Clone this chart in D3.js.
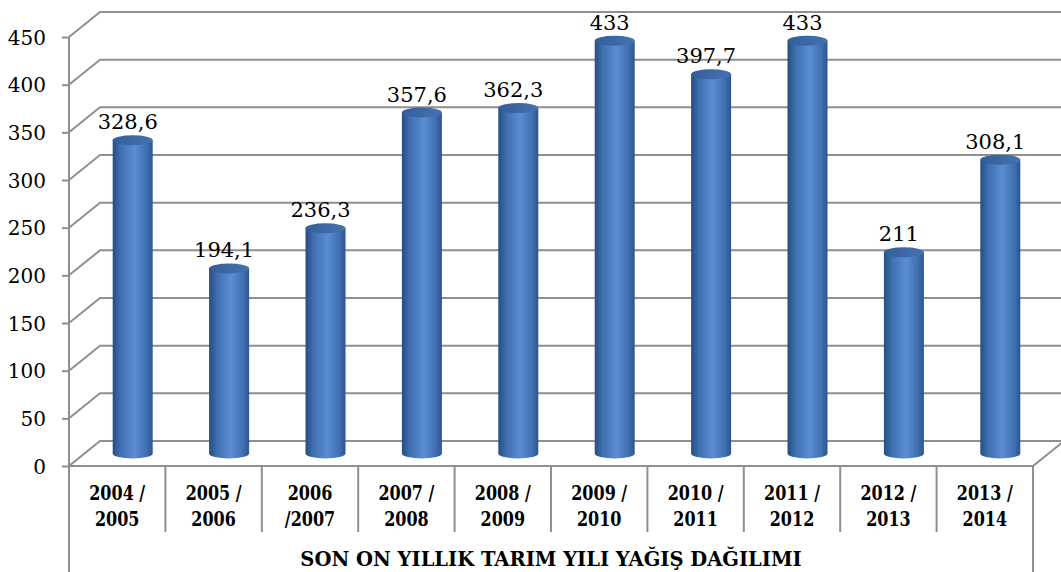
<!DOCTYPE html>
<html>
<head>
<meta charset="utf-8">
<script src="https://cdn.jsdelivr.net/npm/d3@7"></script>
<style>
  body { margin: 0; background: #fff; }
  svg { display: block; }
  svg text { font-family: "DejaVu Serif", "Liberation Serif", "Times New Roman", serif; fill: #000; }
</style>
</head>
<body>
<svg id="canvas"></svg>
<script>
let categories = ["2004 /|2005", "2005 /|2006", "2006|/2007", "2007 /|2008", "2008 /|2009",
                  "2009 /|2010", "2010 /|2011", "2011 /|2012", "2012 /|2013", "2013 /|2014"];
let values = [328.6, 194.1, 236.3, 357.6, 362.3, 433, 397.7, 433, 211, 308.1];
let yTicks = [0, 50, 100, 150, 200, 250, 300, 350, 400, 450];
let title = "SON ON YILLIK TARIM YILI YAĞIŞ DAĞILIMI";

let width = 1061;
let height = 572;

// front plane + depth offset of the 3D box
let plotLeft = 69, plotRight = 1033, plotTop = 37, plotBottom = 466;
let dx = 31, dy = -25;

let canvas = d3.select("#canvas").attr("width", width).attr("height", height);

let xScale = d3.scaleBand().domain(categories).range([plotLeft, plotRight]).padding(0);
let yScale = d3.scaleLinear().domain([0, 450]).range([plotBottom, plotTop]);

let gridColor = "#8f8f8f";

let defs = canvas.append("defs");
let grad = defs.append("linearGradient").attr("id", "cyl").attr("x1", 0).attr("x2", 1).attr("y1", 0).attr("y2", 0);
grad.append("stop").attr("offset", "0%").attr("stop-color", "#274d82");
grad.append("stop").attr("offset", "20%").attr("stop-color", "#3f6fb0");
grad.append("stop").attr("offset", "55%").attr("stop-color", "#5a8dd4");
grad.append("stop").attr("offset", "85%").attr("stop-color", "#3f6fb0");
grad.append("stop").attr("offset", "100%").attr("stop-color", "#2b558e");

let topGrad = defs.append("linearGradient").attr("id", "cyltop").attr("x1", 0).attr("x2", 1).attr("y1", 0).attr("y2", 0);
topGrad.append("stop").attr("offset", "0%").attr("stop-color", "#345e99");
topGrad.append("stop").attr("offset", "100%").attr("stop-color", "#4572b0");

// gridlines: diagonal on the side, horizontal on the back wall
let drawGrid = () => {
    canvas.append("g").selectAll("path")
        .data(yTicks)
        .enter()
        .append("path")
        .attr("d", d => {
            let y = yScale(d);
            return "M" + plotLeft + "," + y + "L" + (plotLeft + dx) + "," + (y + dy) + "L" + (width + 5) + "," + (y + dy);
        })
        .attr("fill", "none")
        .attr("stroke", gridColor)
        .attr("stroke-width", 2);

    // floor front edge and right diagonal
    canvas.append("path")
        .attr("d", "M" + plotLeft + "," + plotBottom + "L" + plotRight + "," + plotBottom + "L" + (plotRight + dx) + "," + (plotBottom + dy))
        .attr("fill", "none")
        .attr("stroke", gridColor)
        .attr("stroke-width", 2);
}

let drawAxes = () => {
    let yAxis = d3.axisLeft(yScale).tickValues(yTicks).tickSize(7).tickPadding(16);
    let g = canvas.append("g")
        .attr("transform", "translate(" + plotLeft + ",0)")
        .call(yAxis);
    g.select(".domain").remove();
    g.selectAll(".tick line").attr("stroke", gridColor).attr("stroke-width", 2);
    g.selectAll(".tick text")
        .attr("font-size", 20)
        .attr("dy", "0.36em");

    canvas.append("line")
        .attr("x1", plotLeft).attr("x2", plotLeft)
        .attr("y1", plotTop).attr("y2", height)
        .attr("stroke", gridColor).attr("stroke-width", 2);
    canvas.append("line")
        .attr("x1", plotRight).attr("x2", plotRight)
        .attr("y1", plotBottom).attr("y2", height)
        .attr("stroke", gridColor).attr("stroke-width", 2);

    // category table dividers
    canvas.append("g").selectAll("line")
        .data(categories.slice(1))
        .enter()
        .append("line")
        .attr("x1", d => xScale(d)).attr("x2", d => xScale(d))
        .attr("y1", plotBottom).attr("y2", 532)
        .attr("stroke", gridColor).attr("stroke-width", 2);

    // category names, squeezed a little to mimic a Times-like width
    let labels = canvas.append("g").selectAll("text")
        .data(categories)
        .enter()
        .append("text")
        .attr("transform", d => "translate(" + (xScale(d) + xScale.bandwidth() / 2) + ",500) scale(0.8,1)")
        .attr("text-anchor", "middle")
        .attr("font-weight", "bold")
        .attr("font-size", 20);
    labels.each(function(d) {
        let parts = d.split("|");
        d3.select(this).selectAll("tspan")
            .data(parts)
            .enter()
            .append("tspan")
            .attr("x", 0)
            .attr("dy", (p, i) => i === 0 ? 0 : 26)
            .text(p => p);
    });

    canvas.append("text")
        .attr("x", (plotLeft + plotRight) / 2)
        .attr("y", 566)
        .attr("text-anchor", "middle")
        .attr("font-weight", "bold")
        .attr("font-size", 19.5)
        .text(title);
}

let drawBars = () => {
    let rx = 20, ry = 5;
    let cx = (d, i) => xScale(categories[i]) + xScale.bandwidth() / 2 + dx / 2;
    let baseY = plotBottom + dy / 2;
    let topY = d => yScale(d) + dy / 2;

    let bars = canvas.append("g").selectAll("g")
        .data(values)
        .enter()
        .append("g");

    bars.append("path")
        .attr("d", (d, i) => {
            let x = cx(d, i);
            return "M" + (x - rx) + "," + topY(d) +
                   "L" + (x - rx) + "," + baseY +
                   "A" + rx + "," + ry + " 0 0 0 " + (x + rx) + "," + baseY +
                   "L" + (x + rx) + "," + topY(d) + "Z";
        })
        .attr("fill", "url(#cyl)");

    bars.append("ellipse")
        .attr("cx", (d, i) => cx(d, i))
        .attr("cy", d => topY(d))
        .attr("rx", rx)
        .attr("ry", ry)
        .attr("fill", "url(#cyltop)");

    bars.append("text")
        .attr("x", (d, i) => cx(d, i) - 5)
        .attr("y", d => topY(d) - 11)
        .attr("text-anchor", "middle")
        .attr("font-size", 21)
        .text(d => String(d).replace(".", ","));
}

drawGrid();
drawAxes();
drawBars();
</script>
</body>
</html>
